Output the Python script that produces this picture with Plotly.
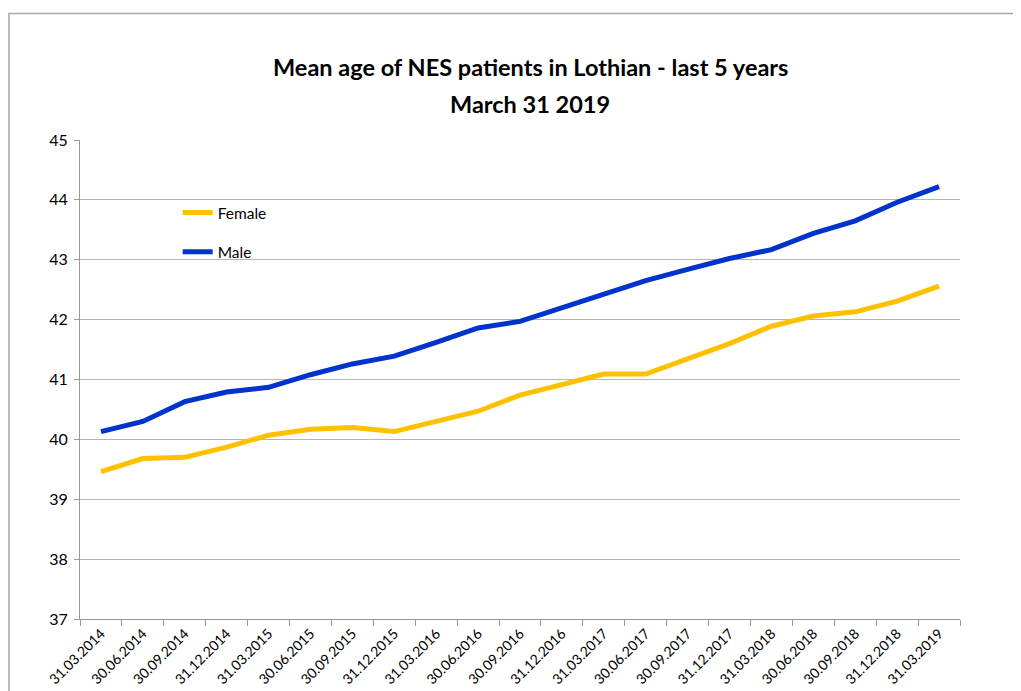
import plotly.graph_objects as go

dates = ["31.03.2014", "30.06.2014", "30.09.2014", "31.12.2014",
         "31.03.2015", "30.06.2015", "30.09.2015", "31.12.2015",
         "31.03.2016", "30.06.2016", "30.09.2016", "31.12.2016",
         "31.03.2017", "30.06.2017", "30.09.2017", "31.12.2017",
         "31.03.2018", "30.06.2018", "30.09.2018", "31.12.2018",
         "31.03.2019"]

female = [39.46, 39.68, 39.70, 39.87, 40.07, 40.17, 40.20, 40.13,
          40.30, 40.47, 40.74, 40.92, 41.09, 41.09, 41.34, 41.60,
          41.89, 42.06, 42.13, 42.31, 42.56]

male = [40.13, 40.30, 40.63, 40.79, 40.87, 41.08, 41.26, 41.39,
        41.62, 41.86, 41.97, 42.20, 42.42, 42.65, 42.84, 43.02,
        43.17, 43.44, 43.65, 43.96, 44.22]

y_ticks = [37, 38, 39, 40, 41, 42, 43, 44, 45]

FONT = "Lato"

# page body has an 8px margin, so the figure sits at (8, 8)
fig = go.Figure()
fig.add_trace(go.Scatter(x=dates, y=female, name="Female", mode="lines",
                         line=dict(color="#FFC000", width=5),
                         legendgroup="f"))
fig.add_trace(go.Scatter(x=dates, y=male, name="Male", mode="lines",
                         line=dict(color="#0033CC", width=5),
                         legendgroup="m"))

fig.update_layout(
    width=1021, height=691,
    margin=dict(l=72, r=69, t=132, b=78),
    paper_bgcolor="white", plot_bgcolor="white",
    font=dict(family=FONT, color="black", size=14),
    showlegend=True,
    legend=dict(x=0.111, y=0.883, xanchor="left", yanchor="top",
                bgcolor="rgba(0,0,0,0)", font=dict(size=15.5, family=FONT),
                traceorder="grouped", tracegroupgap=16),
    xaxis=dict(type="category", tickangle=-45, tickson="boundaries",
               ticks="outside", ticklen=6, tickcolor="#999999",
               showline=True, linecolor="#999999", linewidth=1,
               showgrid=False, tickfont=dict(size=14, family=FONT),
               range=[-0.5, len(dates) - 0.5]),
    yaxis=dict(range=[37, 45], tickvals=y_ticks, ticks="outside", ticklen=5,
               tickcolor="#999999", showline=True, linecolor="#999999",
               linewidth=1, showgrid=True, gridcolor="#b5b5b5", gridwidth=1,
               zeroline=False, tickfont=dict(size=16, family=FONT),
               ticklabelstandoff=3),
    annotations=[
        dict(text="<b>Mean age of NES patients in Lothian - last 5 years</b>",
             xref="paper", yref="paper", x=(530 - 80) / 880, y=(621 - 67) / 481,
             xanchor="center", yanchor="middle", showarrow=False,
             font=dict(size=23.5, family=FONT)),
        dict(text="<b>March 31 2019</b>",
             xref="paper", yref="paper", x=(530 - 80) / 880, y=(621 - 104) / 481,
             xanchor="center", yanchor="middle", showarrow=False,
             font=dict(size=23.5, family=FONT)),
    ],
    shapes=[
        dict(type="rect", xref="paper", yref="paper",
             x0=(9 - 80) / 880, x1=1.2, y0=-0.3, y1=(621 - 13) / 481,
             line=dict(color="#a6a6a6", width=1.5), layer="below"),
    ],
)

fig.write_html("out.html")
